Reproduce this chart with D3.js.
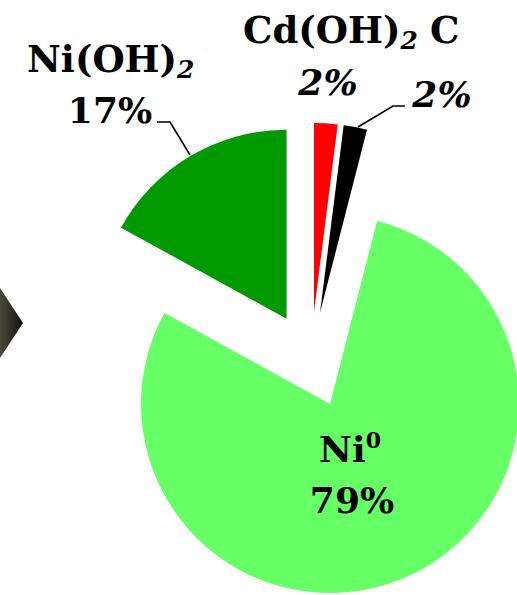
<!DOCTYPE html>
<html>
<head>
<meta charset="utf-8">
<script src="https://cdn.jsdelivr.net/npm/d3@7"></script>
<style>
  html, body { margin: 0; padding: 0; background: #ffffff; }
  svg { display: block; }
  .lbl { font-family: "DejaVu Serif", "Liberation Serif", serif; font-weight: bold; fill: #000; }
</style>
</head>
<body>
<svg id="chart" width="517" height="595"></svg>
<script>
// Composition of the electrode material, in percent
const categories = ["Cd(OH)2", "C", "Ni0", "Ni(OH)2"];
const shares = [2, 2, 79, 17];
const colors = ["#ff0000", "#000000", "#66ff66", "#009900"];

const width = 517, height = 595;
const cx = 311, cy = 360;
const radius = 189;
const explode = 48;

const svg = d3.select("#chart");

// dark arrow tip at the left edge
const defs = svg.append("defs");
const grad = defs.append("linearGradient").attr("id", "tip").attr("x1", "0").attr("x2", "1");
grad.append("stop").attr("offset", "0").attr("stop-color", "#4b4a38");
grad.append("stop").attr("offset", "1").attr("stop-color", "#111110");
svg.append("path")
  .attr("d", "M0,288 L23,323 L0,358 Z")
  .attr("fill", "url(#tip)");

const pie = d3.pie().sort(null).value(d => d)(shares);
const arc = d3.arc().innerRadius(0).outerRadius(radius);

const g = svg.append("g").attr("transform", `translate(${cx},${cy})`);

g.selectAll("path.slice")
  .data(pie)
  .join("path")
  .attr("class", "slice")
  .attr("d", arc)
  .attr("fill", (d, i) => colors[i])
  .attr("transform", d => {
    const a = (d.startAngle + d.endAngle) / 2;
    return `translate(${explode * Math.sin(a)},${-explode * Math.cos(a)})`;
  });

// leader lines
const leaders = [
  [[157, 122], [170, 122], [190, 155]],
  [[405, 106], [393, 106], [358, 127]]
];
svg.selectAll("path.leader")
  .data(leaders)
  .join("path")
  .attr("class", "leader")
  .attr("d", d3.line())
  .attr("fill", "none")
  .attr("stroke", "#000")
  .attr("stroke-width", 1.6);

// Ni(OH)2 label
const t1 = svg.append("text").attr("class", "lbl").attr("x", 27).attr("y", 72).attr("font-size", 37);
t1.append("tspan").text("Ni(OH)");
t1.append("tspan").attr("font-size", 25).attr("font-style", "italic").attr("dy", 6).text("2");
svg.append("text").attr("class", "lbl").attr("x", 110).attr("y", 123)
  .attr("text-anchor", "middle").attr("font-size", 36).text(shares[3] + "%");

// Cd(OH)2 and C labels
const t2 = svg.append("text").attr("class", "lbl").attr("x", 243).attr("y", 43).attr("font-size", 37);
t2.append("tspan").text("Cd(OH)");
t2.append("tspan").attr("font-size", 25).attr("font-style", "italic").attr("dy", 6).text("2");
svg.append("text").attr("class", "lbl").attr("x", 430).attr("y", 43).attr("font-size", 37).text(categories[1]);
svg.append("text").attr("class", "lbl").attr("x", 328).attr("y", 95)
  .attr("text-anchor", "middle").attr("font-size", 36).attr("font-style", "italic").text(shares[0] + "%");
svg.append("text").attr("class", "lbl").attr("x", 442).attr("y", 107)
  .attr("text-anchor", "middle").attr("font-size", 36).attr("font-style", "italic").text(shares[1] + "%");

// Ni0 label inside the large slice
const t3 = svg.append("text").attr("class", "lbl").attr("x", 350).attr("y", 462)
  .attr("text-anchor", "middle").attr("font-size", 36);
t3.append("tspan").text("Ni");
t3.append("tspan").attr("font-size", 22).attr("dy", -14).text("0");
svg.append("text").attr("class", "lbl").attr("x", 352).attr("y", 513)
  .attr("text-anchor", "middle").attr("font-size", 36).text(shares[2] + "%");
</script>
</body>
</html>
